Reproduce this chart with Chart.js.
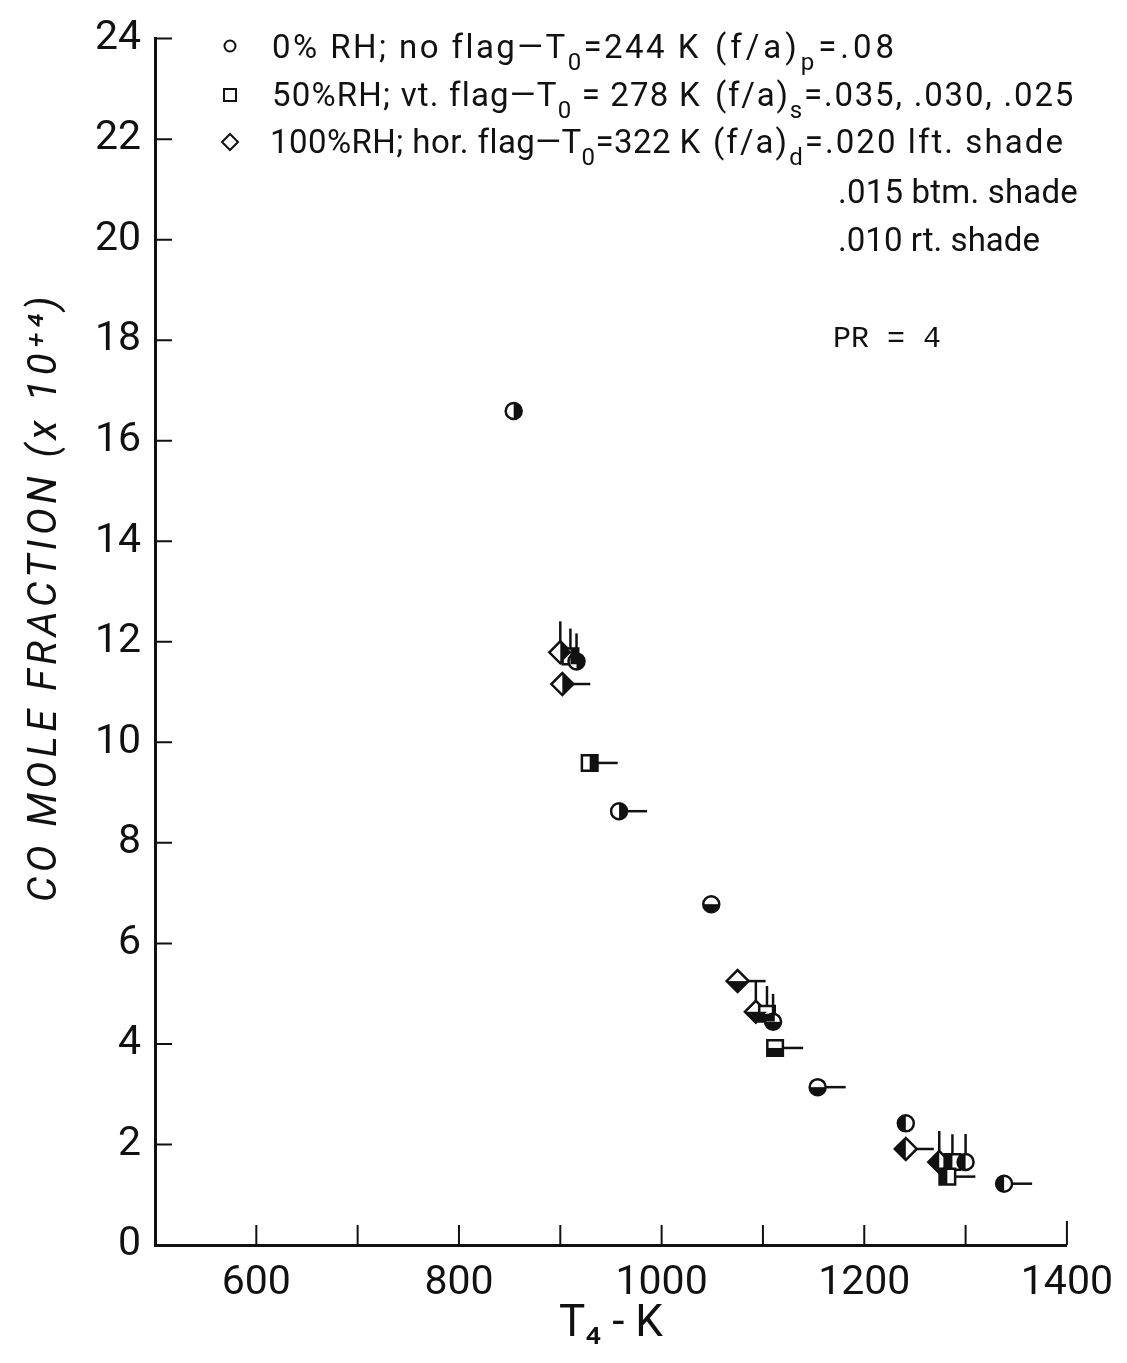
<!DOCTYPE html>
<html>
<head>
<meta charset="utf-8">
<script src="https://cdn.jsdelivr.net/npm/chart.js@4.4.0/dist/chart.umd.min.js"></script>
<style>
  body { margin: 0; background: #fff; }
  #wrap { width: 1127px; height: 1363px; }
</style>
</head>
<body>
<div id="wrap"><canvas id="coChart" width="1127" height="1363"></canvas></div>
<script>
// values: T4 in K, CO mole fraction in units of 1e-4
// flag: none / vt / hor (RH), shade: lft / btm / rt ((f/a)d)
const circleT4 = [854, 1049, 1241, 916, 1110, 1300, 958, 1154, 1338];
const circleCO = [16.59, 6.78, 2.42, 11.61, 4.44, 1.65, 8.63, 3.14, 1.22];
const circleFlag = ["none", "none", "none", "vt", "vt", "vt", "hor", "hor", "hor"];
const circleShade = ["rt", "btm", "lft", "rt", "btm", "lft", "rt", "btm", "lft"];

const squareT4 = [910, 1104, 1287, 929, 1112, 1282];
const squareCO = [11.71, 4.6, 1.65, 9.59, 3.92, 1.36];
const squareFlag = ["vt", "vt", "vt", "hor", "hor", "hor"];
const squareShade = ["rt", "btm", "lft", "rt", "btm", "lft"];

const diamondT4 = [900, 1093, 1274, 902, 1075, 1241];
const diamondCO = [11.79, 4.64, 1.65, 11.16, 5.25, 1.91];
const diamondFlag = ["vt", "vt", "vt", "hor", "hor", "hor"];
const diamondShade = ["rt", "btm", "lft", "rt", "btm", "lft"];

const xTicks = [600, 800, 1000, 1200, 1400];

const ink = "#111";
const fontFam = 'Roboto, "DejaVu Sans", sans-serif';

function points(xs, ys) {
  return xs.map((x, i) => ({ x: x, y: ys[i] }));
}

// marker outline path, used for the shading clip
function markerPath(ctx, shape, x, y, s) {
  ctx.beginPath();
  if (shape === "circle") {
    ctx.arc(x, y, s, 0, Math.PI * 2);
  } else if (shape === "square") {
    ctx.rect(x - s, y - s, 2 * s, 2 * s);
  } else {
    ctx.moveTo(x, y - s);
    ctx.lineTo(x + s, y);
    ctx.lineTo(x, y + s);
    ctx.lineTo(x - s, y);
    ctx.closePath();
  }
}

const markerInfo = [
  { shape: "circle", size: 8, flags: circleFlag, shades: circleShade },
  { shape: "square", size: 7.8, flags: squareFlag, shades: squareShade },
  { shape: "diamond", size: 11, flags: diamondFlag, shades: diamondShade },
];

// flags and half shading on top of the points
const flagsPlugin = {
  id: "flags",
  afterDatasetsDraw(chart) {
    const ctx = chart.ctx;
    chart.data.datasets.forEach((ds, di) => {
      const info = markerInfo[di];
      const meta = chart.getDatasetMeta(di);
      meta.data.forEach((pt, i) => {
        const x = pt.x, y = pt.y, s = info.size;
        ctx.save();
        markerPath(ctx, info.shape, x, y, s);
        ctx.clip();
        ctx.fillStyle = ink;
        const sh = info.shades[i];
        if (sh === "lft") ctx.fillRect(x - s - 2, y - s - 2, s + 2, 2 * s + 4);
        if (sh === "rt") ctx.fillRect(x, y - s - 2, s + 2, 2 * s + 4);
        if (sh === "btm") ctx.fillRect(x - s - 2, y, 2 * s + 4, s + 2);
        ctx.restore();

        ctx.save();
        ctx.strokeStyle = ink;
        ctx.lineWidth = 2.5;
        const fl = info.flags[i];
        ctx.beginPath();
        if (fl === "vt") {
          ctx.moveTo(x, y - s);
          ctx.lineTo(x, y - s - 20);
        } else if (fl === "hor") {
          ctx.moveTo(x + s, y);
          ctx.lineTo(x + 28, y);
        }
        ctx.stroke();
        ctx.restore();
      });
    });
  },
};

// ticks drawn inward from the axes
const inwardTicks = {
  id: "inwardTicks",
  afterDraw(chart) {
    const ctx = chart.ctx;
    const xs = chart.scales.x, ys = chart.scales.y;
    const area = chart.chartArea;
    ctx.save();
    ctx.strokeStyle = ink;
    ctx.lineWidth = 2;
    ctx.beginPath();
    ys.ticks.forEach((t) => {
      if (t.value === 0) return;
      const py = ys.getPixelForValue(t.value);
      ctx.moveTo(area.left, py);
      ctx.lineTo(area.left + 17, py);
    });
    xs.ticks.forEach((t) => {
      if (t.value === xs.min) return;
      const px = xs.getPixelForValue(t.value);
      ctx.moveTo(px, area.bottom);
      ctx.lineTo(px, area.bottom - (t.value === xs.max ? 24 : 20));
    });
    ctx.stroke();
    ctx.restore();
  },
};

function pieceFont(p, size) {
  return (p.sub ? Math.round(size * 0.72) : size) + "px " + fontFam;
}

// draws a run of text pieces between x and right; sub pieces are smaller and lowered
function drawRun(ctx, x, right, y, pieces, size) {
  ctx.letterSpacing = "0px";
  let w = 0, n = 0;
  pieces.forEach((p) => {
    ctx.font = pieceFont(p, size);
    w += ctx.measureText(p.t).width;
    n += p.t.length;
  });
  const sp = Math.max(-1, (right - x - w) / n);
  ctx.letterSpacing = sp.toFixed(2) + "px";
  pieces.forEach((p) => {
    ctx.font = pieceFont(p, size);
    ctx.fillText(p.t, x, p.sub ? y + size * 0.35 : y);
    x += ctx.measureText(p.t).width;
  });
  ctx.letterSpacing = "0px";
}

const keyPlugin = {
  id: "key",
  afterDraw(chart) {
    const ctx = chart.ctx;
    ctx.save();
    ctx.fillStyle = ink;
    ctx.strokeStyle = ink;
    ctx.lineWidth = 2;
    ctx.textBaseline = "alphabetic";
    ctx.textAlign = "left";

    // symbols
    ctx.beginPath();
    ctx.arc(230, 46, 5.5, 0, Math.PI * 2);
    ctx.stroke();
    ctx.strokeRect(224, 89, 12, 12);
    ctx.beginPath();
    ctx.moveTo(230, 134);
    ctx.lineTo(238, 142);
    ctx.lineTo(230, 150);
    ctx.lineTo(222, 142);
    ctx.closePath();
    ctx.stroke();

    const fs = 33;
    drawRun(ctx, 272, 700, 58, [{ t: "0% RH; no flag\u2014T" }, { t: "0", sub: true }, { t: "=244 K" }], fs);
    drawRun(ctx, 272, 700, 106, [{ t: "50%RH; vt. flag\u2014T" }, { t: "0", sub: true }, { t: " = 278 K" }], fs);
    drawRun(ctx, 270, 700, 153, [{ t: "100%RH; hor. flag\u2014T" }, { t: "0", sub: true }, { t: "=322 K" }], fs);

    drawRun(ctx, 715, 898, 58, [{ t: "(f/a)" }, { t: "p", sub: true }, { t: "=.08" }], fs);
    drawRun(ctx, 715, 1075, 106, [{ t: "(f/a)" }, { t: "s", sub: true }, { t: "=.035, .030, .025" }], fs);
    drawRun(ctx, 713, 1065, 153, [{ t: "(f/a)" }, { t: "d", sub: true }, { t: "=.020 lft. shade" }], fs);
    drawRun(ctx, 838, 1078, 203, [{ t: ".015 btm. shade" }], fs);
    drawRun(ctx, 838, 1040, 251, [{ t: ".010 rt. shade" }], fs);

    ctx.font = '30px "Liberation Mono", "DejaVu Sans Mono", monospace';
    ctx.fillText("PR = 4", 833, 347);

    // y axis title, rotated
    ctx.translate(46, 597);
    ctx.rotate(-Math.PI / 2);
    ctx.textAlign = "center";
    ctx.textBaseline = "middle";
    ctx.letterSpacing = "4.5px";
    ctx.font = "italic 40px " + fontFam;
    ctx.fillText("CO MOLE FRACTION (x 10\u207A\u2074)", 0, 0);
    ctx.restore();
  },
};

const ctx = document.getElementById("coChart").getContext("2d");
const chart = new Chart(ctx, {
  type: "scatter",
  data: {
    datasets: [
      {
        label: "circle",
        data: points(circleT4, circleCO),
        pointStyle: "circle",
        pointRadius: 8,
        borderColor: ink,
        backgroundColor: "#fff",
        borderWidth: 2.5,
      },
      {
        label: "square",
        data: points(squareT4, squareCO),
        pointStyle: "rect",
        pointRadius: 11,
        borderColor: ink,
        backgroundColor: "#fff",
        borderWidth: 2.5,
      },
      {
        label: "diamond",
        data: points(diamondT4, diamondCO),
        pointStyle: "rectRot",
        pointRadius: 11,
        borderColor: ink,
        backgroundColor: "#fff",
        borderWidth: 2.5,
      },
    ],
  },
  options: {
    responsive: false,
    animation: false,
    layout: { padding: { top: 30, right: 57, left: 0, bottom: 0 } },
    plugins: {
      legend: { display: false },
      tooltip: { enabled: false },
    },
    scales: {
      x: {
        type: "linear",
        min: 500,
        max: 1400,
        afterFit: (s) => { s.height = 118; },
        ticks: {
          stepSize: 100,
          autoSkip: false,
          maxRotation: 0,
          padding: 14,
          color: ink,
          font: { family: fontFam, size: 41 },
          callback: (v) => (xTicks.includes(v) ? String(v) : ""),
        },
        grid: { drawOnChartArea: false, drawTicks: false },
        border: { display: true, color: ink, width: 3 },
        title: {
          display: true,
          text: "T\u2084 - K",
          color: ink,
          font: { family: fontFam, size: 44 },
          padding: { top: 0, bottom: 12 },
        },
      },
      y: {
        min: 0,
        max: 24,
        afterFit: (s) => { s.width = 155; },
        ticks: {
          stepSize: 2,
          padding: 14,
          color: ink,
          font: { family: fontFam, size: 41 },
        },
        grid: { drawOnChartArea: false, drawTicks: false },
        border: { display: true, color: ink, width: 3 },
      },
    },
  },
  plugins: [flagsPlugin, inwardTicks, keyPlugin],
});
</script>
</body>
</html>
